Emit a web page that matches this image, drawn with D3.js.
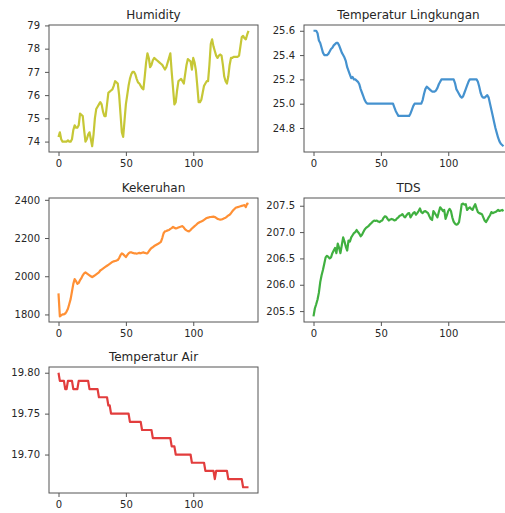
<!DOCTYPE html>
<html>
<head>
<meta charset="utf-8">
<script src="https://cdn.jsdelivr.net/npm/d3@7"></script>
<style>
  body { margin: 0; background: #fff; }
  text { font-family: "DejaVu Sans", sans-serif; fill: #262626; }
</style>
</head>
<body>
<script>
var humidity = [74.2, 74.4, 74.1, 74.0, 74.0, 74.0, 74.0, 74.05, 74.0, 74.0,
  74.1, 74.5, 74.7, 74.6, 74.6, 74.7, 75.2, 75.15, 75.1, 74.5,
  74.0, 74.1, 74.3, 74.4, 74.1, 73.8, 74.3, 75.0, 75.4, 75.5,
  75.6, 75.7, 75.6, 75.3, 75.1, 75.1, 75.6, 76.1, 76.15, 76.2,
  76.25, 76.4, 76.6, 76.55, 76.5, 76.0, 75.2, 74.4, 74.2, 74.9,
  75.6, 76.0, 76.4, 76.7, 76.9, 77.0, 77.0, 76.9, 76.7, 76.55,
  76.5, 76.4, 76.3, 76.25, 76.8, 77.4, 77.8, 77.6, 77.2, 77.3,
  77.5, 77.6, 77.55, 77.5, 77.45, 77.4, 77.35, 77.3, 77.2, 77.1,
  77.2, 77.4, 77.6, 77.8, 77.0, 76.3, 75.6, 75.7, 76.2, 76.6,
  76.65, 76.7, 76.6, 76.5, 76.9, 77.3, 77.55, 77.5, 77.45, 77.1,
  77.6, 77.4, 77.05, 76.4, 75.7, 75.7, 75.8, 76.1, 76.4, 76.5,
  76.6, 76.6, 77.3, 78.2, 78.4, 78.1, 77.9, 77.7, 77.6, 77.7,
  77.75, 77.7, 77.3, 76.8, 76.6, 76.5, 76.8, 77.3, 77.6, 77.6,
  77.65, 77.65, 77.65, 77.65, 77.7, 78.1, 78.5, 78.55, 78.45, 78.4,
  78.6, 78.77];

var tempLingkungan = [25.6, 25.6, 25.6, 25.58, 25.52, 25.5, 25.46, 25.42, 25.4, 25.4,
  25.4, 25.41, 25.43, 25.45, 25.46, 25.48, 25.49, 25.5, 25.5, 25.48,
  25.45, 25.42, 25.4, 25.38, 25.35, 25.3, 25.27, 25.24, 25.21, 25.22,
  25.2, 25.2, 25.19, 25.18, 25.16, 25.12, 25.09, 25.06, 25.03, 25.01,
  25.0, 25.0, 25.0, 25.0, 25.0, 25.0, 25.0, 25.0, 25.0, 25.0,
  25.0, 25.0, 25.0, 25.0, 25.0, 25.0, 25.0, 25.0, 25.0, 25.0,
  24.97, 24.94, 24.92, 24.9, 24.9, 24.9, 24.9, 24.9, 24.9, 24.9,
  24.9, 24.9, 24.92, 24.95, 24.98, 25.0, 25.0, 25.0, 25.0, 25.0,
  25.0, 25.03, 25.08, 25.12, 25.14, 25.13, 25.12, 25.11, 25.1, 25.1,
  25.1, 25.11, 25.13, 25.16, 25.18, 25.2, 25.2, 25.2, 25.2, 25.2,
  25.2, 25.2, 25.2, 25.2, 25.2, 25.17, 25.12, 25.1, 25.08, 25.06,
  25.05, 25.06, 25.09, 25.12, 25.15, 25.18, 25.2, 25.2, 25.2, 25.2,
  25.2, 25.2, 25.18, 25.14, 25.09, 25.06, 25.05, 25.05, 25.06, 25.07,
  25.05, 25.0, 24.95, 24.9, 24.85, 24.8, 24.76, 24.72, 24.69, 24.67,
  24.66, 24.65];

var kekeruhan = [1910, 1790, 1795, 1800, 1800, 1805, 1815, 1830, 1855, 1880,
  1920, 1960, 1985, 1975, 1960, 1965, 1980, 1990, 2005, 2015,
  2020, 2015, 2010, 2005, 2000, 1995, 2000, 2005, 2010, 2015,
  2020, 2030, 2035, 2040, 2045, 2050, 2055, 2060, 2065, 2070,
  2075, 2078, 2080, 2082, 2085, 2095, 2110, 2120, 2115, 2108,
  2100, 2110, 2120, 2125, 2125, 2122, 2120, 2120, 2118, 2120,
  2122, 2120, 2123, 2125, 2122, 2120, 2120, 2130, 2140, 2148,
  2152, 2158, 2162, 2166, 2170, 2175, 2180, 2200, 2225, 2235,
  2237, 2240, 2242, 2248, 2252, 2258, 2254, 2250, 2252, 2255,
  2258, 2260, 2262, 2255, 2245, 2240, 2236, 2235, 2242, 2250,
  2256, 2262, 2268, 2275, 2280, 2284, 2287, 2290, 2295, 2300,
  2305, 2307, 2309, 2310, 2311, 2312, 2310, 2305, 2300, 2298,
  2296, 2297, 2300, 2303, 2306, 2312, 2318, 2322, 2330, 2340,
  2348, 2355, 2360, 2362, 2364, 2366, 2368, 2370, 2372, 2362,
  2380, 2378];

var tds = [205.4, 205.55, 205.63, 205.72, 205.85, 206.05, 206.18, 206.28, 206.4, 206.52,
  206.55, 206.53, 206.5, 206.52, 206.6, 206.65, 206.7, 206.6, 206.78, 206.7,
  206.6, 206.75, 206.9, 206.82, 206.72, 206.65, 206.84, 206.82, 206.9, 206.94,
  206.98, 207.0, 207.04, 207.0, 206.97, 206.92, 206.95, 207.0, 207.05, 207.08,
  207.1, 207.12, 207.15, 207.17, 207.2, 207.22, 207.21, 207.22, 207.2, 207.19,
  207.21, 207.22, 207.27, 207.3, 207.29, 207.25, 207.22, 207.24, 207.25, 207.24,
  207.22, 207.23, 207.26, 207.28, 207.31, 207.32, 207.34, 207.3, 207.28, 207.32,
  207.35, 207.36, 207.28, 207.32, 207.36, 207.38, 207.33, 207.36, 207.4, 207.45,
  207.38, 207.36, 207.39, 207.4, 207.38, 207.36, 207.3, 207.25, 207.23, 207.4,
  207.36, 207.32, 207.28, 207.38, 207.47, 207.44, 207.4, 207.42, 207.25, 207.32,
  207.4, 207.44, 207.4, 207.28, 207.2, 207.16, 207.14, 207.15, 207.19, 207.35,
  207.53, 207.54, 207.52, 207.53, 207.42, 207.45, 207.47, 207.44, 207.42, 207.48,
  207.53, 207.45, 207.38, 207.36, 207.35, 207.34, 207.28, 207.22, 207.19, 207.23,
  207.28, 207.32, 207.38, 207.36, 207.37, 207.38, 207.4, 207.42, 207.4, 207.41,
  207.42, 207.4];

var tempAir = [19.80,
  19.79, 19.79, 19.79, 19.79,
  19.78, 19.78,
  19.79, 19.79, 19.79, 19.79,
  19.78, 19.78, 19.78, 19.78,
  19.79, 19.79, 19.79, 19.79, 19.79, 19.79, 19.79, 19.79,
  19.78, 19.78, 19.78, 19.78, 19.78, 19.78, 19.78,
  19.77, 19.77, 19.77, 19.77, 19.77, 19.77, 19.77,
  19.76, 19.76,
  19.75, 19.75, 19.75, 19.75, 19.75, 19.75, 19.75, 19.75, 19.75, 19.75, 19.75, 19.75, 19.75, 19.75,
  19.74, 19.74, 19.74, 19.74, 19.74, 19.74, 19.74, 19.74, 19.74,
  19.73, 19.73, 19.73, 19.73, 19.73, 19.73, 19.73, 19.73,
  19.72, 19.72, 19.72, 19.72, 19.72, 19.72, 19.72, 19.72, 19.72, 19.72, 19.72, 19.72, 19.72, 19.72,
  19.71, 19.71, 19.71,
  19.70, 19.70, 19.70, 19.70, 19.70, 19.70, 19.70, 19.70, 19.70, 19.70, 19.70, 19.70,
  19.69, 19.69, 19.69, 19.69, 19.69, 19.69, 19.69, 19.69, 19.69, 19.69,
  19.68, 19.68, 19.68, 19.68, 19.68, 19.68, 19.68, 19.67, 19.68, 19.68,
  19.68, 19.68, 19.68, 19.68, 19.68, 19.68, 19.68,
  19.67, 19.67, 19.67, 19.67, 19.67, 19.67, 19.67, 19.67, 19.67, 19.67, 19.67,
  19.66, 19.66, 19.66, 19.66, 19.66];

var titles = ["Humidity", "Temperatur Lingkungan", "Kekeruhan", "TDS", "Temperatur Air"];
var xTicks = [0, 50, 100];
var humTicks = [74, 75, 76, 77, 78, 79];
var tlTicks = [24.8, 25.0, 25.2, 25.4, 25.6];
var kekTicks = [1800, 2000, 2200, 2400];
var tdsTicks = [205.5, 206.0, 206.5, 207.0, 207.5];
var taTicks = [19.70, 19.75, 19.80];

var width = 505, height = 513;

var svg = d3.select("body").append("svg")
    .attr("width", width)
    .attr("height", height);

var cols = [[49, 258], [304, 513]],
    rows = [[25, 152], [198, 322], [367, 493]];

var panels = [
    { values: humidity, color: "#c6c736", ticks: humTicks, fmt: d3.format("d") },
    { values: tempLingkungan, color: "#4592cf", ticks: tlTicks, fmt: d3.format(".1f") },
    { values: kekeruhan, color: "#ff9035", ticks: kekTicks, fmt: d3.format("d") },
    { values: tds, color: "#40b040", ticks: tdsTicks, fmt: d3.format(".1f") },
    { values: tempAir, color: "#e23d3d", ticks: taTicks, fmt: d3.format(".2f") }
];

function padded(ext) {
    var m = (ext[1] - ext[0]) * 0.05;
    return [ext[0] - m, ext[1] + m];
}

panels.forEach(function (p, k) {
    var c = cols[k % 2], r = rows[Math.floor(k / 2)];
    var idx = d3.range(p.values.length);

    var x = d3.scaleLinear().domain(padded(d3.extent(idx))).range(c);
    var y = d3.scaleLinear().domain(padded(d3.extent(p.values))).range([r[1], r[0]]);

    var g = svg.append("g");

    g.append("path")
        .datum(idx)
        .attr("fill", "none")
        .attr("stroke", p.color)
        .attr("stroke-width", 2.2)
        .attr("stroke-linejoin", "round")
        .attr("d", d3.line()
            .x(function (i) { return x(i); })
            .y(function (i) { return y(p.values[i]); }));

    g.append("rect")
        .attr("x", c[0]).attr("y", r[0])
        .attr("width", c[1] - c[0]).attr("height", r[1] - r[0])
        .attr("fill", "none")
        .attr("stroke", "#555")
        .attr("stroke-width", 1);

    var xa = g.append("g")
        .attr("transform", "translate(0," + r[1] + ")")
        .call(d3.axisBottom(x).tickValues(xTicks).tickSize(4).tickPadding(3.5));
    var ya = g.append("g")
        .attr("transform", "translate(" + c[0] + ",0)")
        .call(d3.axisLeft(y).tickValues(p.ticks).tickFormat(p.fmt).tickSize(4).tickPadding(5));

    [xa, ya].forEach(function (a) {
        a.select(".domain").remove();
        a.selectAll(".tick line").attr("stroke", "#555");
        a.selectAll(".tick text")
            .attr("fill", "#262626")
            .style("font-family", "DejaVu Sans")
            .style("font-size", "10px");
    });

    g.append("text")
        .attr("x", (c[0] + c[1]) / 2)
        .attr("y", r[0] - 6)
        .attr("text-anchor", "middle")
        .style("font-size", "12px")
        .text(titles[k]);
});
</script>
</body>
</html>
